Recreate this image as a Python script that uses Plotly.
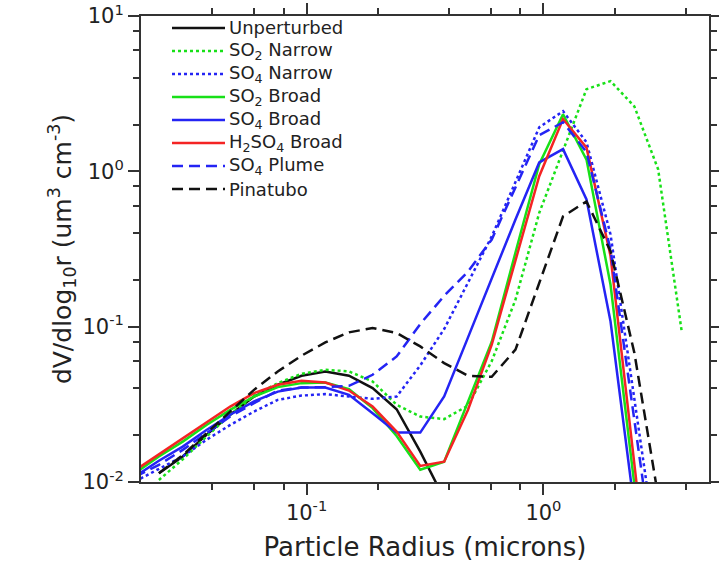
import plotly.graph_objects as go

# Particle radius bins (microns)
radius = [0.0189, 0.0238, 0.0300, 0.0378, 0.0476, 0.0600, 0.0756, 0.0952, 0.120, 0.151,
          0.190, 0.240, 0.302, 0.381, 0.480, 0.605, 0.762, 0.960, 1.21, 1.52,
          1.92, 2.42, 3.05, 3.84, 4.84]

unperturbed = [None, 0.0114, 0.0146, 0.0201, 0.0271, 0.0355, 0.0423, 0.0483, 0.0515, 0.0483,
               0.0402, 0.0294, 0.0157, 0.0078, 0.0030, None, None, None, None, None,
               None, None, None, None, None]
so2_narrow = [None, 0.0103, 0.0140, 0.0196, 0.0271, 0.0359, 0.0433, 0.0497, 0.0528, 0.0515,
              0.0444, 0.0314, 0.0264, 0.0254, 0.0310, 0.0600, 0.149, 0.54, 1.35, 3.38,
              3.81, 2.62, 1.03, 0.092, None]
so4_narrow = [0.0101, 0.0122, 0.0146, 0.0187, 0.0233, 0.0284, 0.0338, 0.0360, 0.0368, 0.0355,
              0.0343, 0.0355, 0.0563, 0.0966, 0.190, 0.381, 0.853, 1.92, 2.44, 1.54,
              0.392, 0.0375, 0.0030, None, None]
so2_broad = [0.0114, 0.0146, 0.0182, 0.0233, 0.0291, 0.0355, 0.0408, 0.0433, 0.0437, 0.0396,
             0.0299, 0.0198, 0.0120, 0.0135, 0.0328, 0.080, 0.30, 1.11, 2.33, 1.19,
             0.186, 0.0116, 0.0005, None, None]
so4_broad = [0.0109, 0.0137, 0.0169, 0.0216, 0.0271, 0.0330, 0.0382, 0.0406, 0.0406, 0.0364,
             0.0277, 0.0208, 0.0208, 0.0355, 0.085, 0.205, 0.49, 1.14, 1.39, 0.659,
             0.108, 0.0068, None, None, None]
h2so4_broad = [0.0119, 0.0151, 0.0191, 0.0243, 0.0306, 0.0373, 0.0423, 0.0448, 0.0437, 0.0388,
               0.0306, 0.0211, 0.0127, 0.0135, 0.0291, 0.0766, 0.267, 0.93, 2.17, 1.42,
               0.285, 0.0147, 0.0006, None, None]
so4_plume = [0.0108, 0.0129, 0.0161, 0.0206, 0.0264, 0.0322, 0.0388, 0.0406, 0.0408, 0.0416,
             0.0490, 0.0643, 0.104, 0.158, 0.226, 0.364, 0.788, 1.71, 2.07, 1.33,
             0.314, 0.0271, 0.0020, None, None]
pinatubo = [None, 0.0114, 0.0149, 0.0206, 0.0284, 0.0392, 0.0515, 0.0650, 0.0792, 0.0919,
            0.0980, 0.0910, 0.0746, 0.0583, 0.0483, 0.0476, 0.0711, 0.189, 0.513, 0.64,
            0.306, 0.068, 0.0081, None, None]

names = ["Unperturbed", "SO<sub>2</sub> Narrow", "SO<sub>4</sub> Narrow", "SO<sub>2</sub> Broad",
         "SO<sub>4</sub> Broad", "H<sub>2</sub>SO<sub>4</sub> Broad", "SO<sub>4</sub> Plume", "Pinatubo"]
series = [unperturbed, so2_narrow, so4_narrow, so2_broad, so4_broad, h2so4_broad, so4_plume, pinatubo]

BLACK, GREEN, BLUE, RED = "#111111", "#18e018", "#2424f4", "#f42424"
colors = [BLACK, GREEN, BLUE, GREEN, BLUE, RED, BLUE, BLACK]
dashes = ["solid", "3px,3px", "3px,3px", "solid", "solid", "solid", "11px,6px", "11px,6px"]

x_major = [0.1, 1]
x_major_text = ["10<sup>-1</sup>", "10<sup>0</sup>"]
x_minor = [0.04, 0.06, 0.08, 0.2, 0.4, 0.6, 0.8, 2, 4]
y_major = [0.01, 0.1, 1, 10]
y_major_text = ["10<sup>-2</sup>", "10<sup>-1</sup>", "10<sup>0</sup>", "10<sup>1</sup>"]
y_minor = [0.02, 0.04, 0.06, 0.08, 0.2, 0.4, 0.6, 0.8, 2, 4, 6, 8]

FONT = "DejaVu Sans"
W, H = 719, 570
ML, MR, MT, MB = 141, 10, 16, 88
PW, PH = W - ML - MR, H - MT - MB

fig = go.Figure()
for name, vals, c, d in zip(names, series, colors, dashes):
    fig.add_trace(go.Scatter(x=radius, y=vals, mode="lines", name=name, showlegend=False,
                             line=dict(color=c, width=2.5, dash=d)))

# legend drawn in the upper-left corner of the plot area (pixel layout converted to paper units)
def px_x(p):
    return (p - ML) / PW

def px_y(p):
    return 1 - (p - MT) / PH

for i, (name, c, d) in enumerate(zip(names, colors, dashes)):
    yy = px_y(28 + 23 * i)
    fig.add_shape(type="line", xref="paper", yref="paper", x0=px_x(172), x1=px_x(225),
                  y0=yy, y1=yy, line=dict(color=c, width=2.5, dash=d))
    fig.add_annotation(xref="paper", yref="paper", x=px_x(227), y=yy, text=name,
                       showarrow=False, xanchor="left", yanchor="middle",
                       font=dict(family=FONT, size=18, color="#222222"))

axis_common = dict(showline=True, linecolor="#333333", linewidth=2, mirror="ticks",
                   ticks="outside", ticklen=11, tickwidth=2, tickcolor="#333333",
                   showgrid=False, zeroline=False, automargin=False,
                   tickfont=dict(family=FONT, size=21, color="#222222"))

fig.update_xaxes(type="log", range=[-1.699, 0.699], tickvals=x_major, ticktext=x_major_text,
                 minor=dict(tickvals=x_minor, ticklen=6, ticks="outside", tickwidth=1.5,
                            tickcolor="#333333", showgrid=False),
                 title=dict(text="Particle Radius (microns)", font=dict(family=FONT, size=26, color="#222222"),
                            standoff=14),
                 **axis_common)
fig.update_yaxes(type="log", range=[-2, 1], tickvals=y_major, ticktext=y_major_text,
                 minor=dict(tickvals=y_minor, ticklen=6, ticks="outside", tickwidth=1.5,
                            tickcolor="#333333", showgrid=False),
                 title=dict(text="dV/dlog<sub>10</sub>r (um<sup>3</sup> cm<sup>-3</sup>)",
                            font=dict(family=FONT, size=25, color="#222222"), standoff=4),
                 **axis_common)

fig.update_layout(
    width=W, height=H,
    margin=dict(l=ML, r=MR, t=MT, b=MB, autoexpand=False),
    plot_bgcolor="white", paper_bgcolor="white",
    showlegend=False,
)

fig.write_html("out.html")
